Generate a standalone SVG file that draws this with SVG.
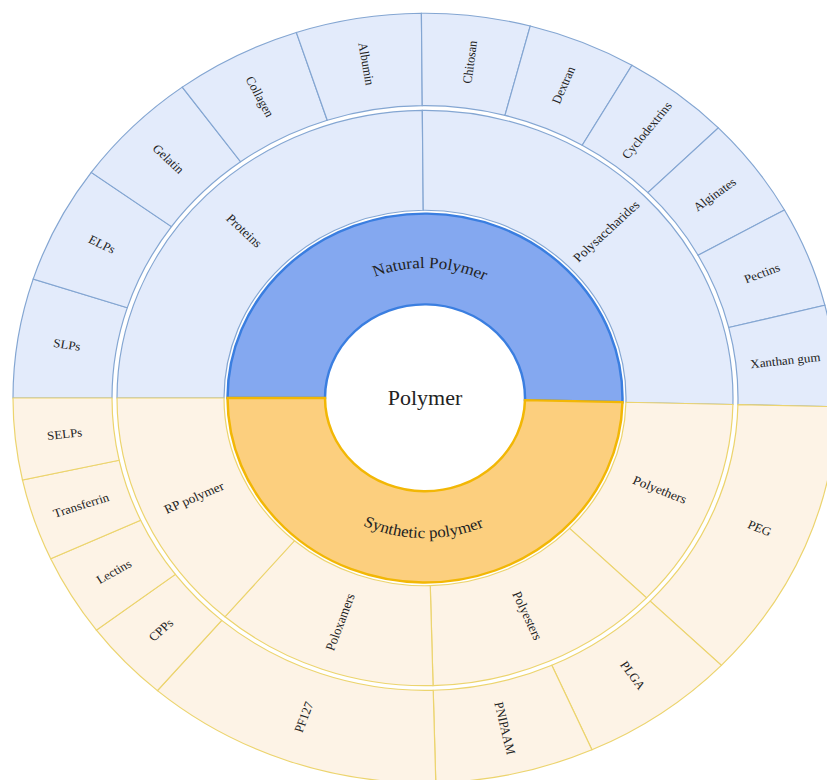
<svg xmlns="http://www.w3.org/2000/svg" width="827" height="780" viewBox="0 0 827 780">
<style>
.nat1{fill:#84a8f0;stroke:#3a7ee0;stroke-width:2.5}
.syn1{fill:#fccf7e;stroke:#f2b705;stroke-width:2.5}
.nat{fill:#e3ebfb;stroke:#84a6d2;stroke-width:1.2}
.syn{fill:#fdf3e6;stroke:#ecd46e;stroke-width:1.2}
text{font-family:"Liberation Serif","Times New Roman",serif;fill:#222;text-anchor:middle}
.t3{font-size:13px;dominant-baseline:central}
.t2{font-size:13.5px;dominant-baseline:central}
.t1{font-size:17px}
.t0{font-size:22px}
</style>
<defs>
<path id="arcNat" d="M-139,0 A139,139 0 1 1 138.96,3.15"/>
<path id="arcSyn" d="M-150,0 A150,150 0 0 0 149.96,3.40"/>
</defs>
<rect width="827" height="780" fill="#ffffff"/>
<g transform="translate(425 398) scale(1 0.934)">
<g id="center"><circle r="100" fill="#ffffff"/><text class="t0" x="0" y="7.5">Polymer</text></g>
<g id="natural-polymer"><path class="nat1" d="M-100,0 L-197.5,0 A197.5,197.5 0 1 1 197.45,4.48 L99.97,2.27 A100,100 0 1 0 -100,0 Z"/><text class="t1"><textPath href="#arcNat" startOffset="50.8%">Natural Polymer</textPath></text></g>
<g id="synthetic-polymer"><path class="syn1" d="M99.97,2.27 L197.45,4.48 A197.5,197.5 0 0 1 -197.5,0 L-100,0 A100,100 0 0 0 99.97,2.27 Z"/><text class="t1"><textPath href="#arcSyn" startOffset="50%">Synthetic polymer</textPath></text></g>

<g id="proteins"><path class="nat" d="M-201,0 L-308,0 A308,308 0 0 1 -2.69,-307.99 L-1.75,-200.99 A201,201 0 0 0 -201,0 Z"/><text class="t2" transform="rotate(224.75) translate(254.5 0) rotate(180)">Proteins</text></g>
<g id="polysaccharides"><path class="nat" d="M-1.75,-200.99 L-2.69,-307.99 A308,308 0 0 1 307.92,6.99 L200.95,4.56 A201,201 0 0 0 -1.75,-200.99 Z"/><text class="t2" transform="rotate(315.4) translate(254.5 0)">Polysaccharides</text></g>
<g id="polyethers"><path class="syn" d="M200.95,4.56 L307.92,6.99 A308,308 0 0 1 221.56,213.96 L144.59,139.63 A201,201 0 0 0 200.95,4.56 Z"/><text class="t2" transform="rotate(22.65) translate(254.5 0)">Polyethers</text></g>
<g id="polyesters"><path class="syn" d="M144.59,139.63 L221.56,213.96 A308,308 0 0 1 8.06,307.90 L5.26,200.93 A201,201 0 0 0 144.59,139.63 Z"/><text class="t2" transform="rotate(66.25) translate(254.5 0)">Polyesters</text></g>
<g id="poloxamers"><path class="syn" d="M5.26,200.93 L8.06,307.90 A308,308 0 0 1 -200.03,234.21 L-130.54,152.84 A201,201 0 0 0 5.26,200.93 Z"/><text class="t2" transform="rotate(109.5) translate(254.5 0) rotate(180)">Poloxamers</text></g>
<g id="rp-polymer"><path class="syn" d="M-130.54,152.84 L-200.03,234.21 A308,308 0 0 1 -308,0 L-201,0 A201,201 0 0 0 -130.54,152.84 Z"/><text class="t2" transform="rotate(155.25) translate(254.5 0) rotate(180)">RP polymer</text></g>

<g id="slps"><path class="nat" d="M-313,0 L-412,0 A412,412 0 0 1 -391.84,-127.32 L-297.68,-96.72 A313,313 0 0 0 -313,0 Z"/><text class="t3" transform="rotate(189) translate(362.5 0) rotate(180)">SLPs</text></g>
<g id="elps"><path class="nat" d="M-297.68,-96.72 L-391.84,-127.32 A412,412 0 0 1 -333.74,-241.58 L-253.54,-183.53 A313,313 0 0 0 -297.68,-96.72 Z"/><text class="t3" transform="rotate(206.95) translate(362.5 0) rotate(180)">ELPs</text></g>
<g id="gelatin"><path class="nat" d="M-253.54,-183.53 L-333.74,-241.58 A412,412 0 0 1 -242.75,-332.89 L-184.42,-252.90 A313,313 0 0 0 -253.54,-183.53 Z"/><text class="t3" transform="rotate(224.9) translate(362.5 0) rotate(180)">Gelatin</text></g>
<g id="collagen"><path class="nat" d="M-184.42,-252.90 L-242.75,-332.89 A412,412 0 0 1 -128.68,-391.39 L-97.76,-297.34 A313,313 0 0 0 -184.42,-252.90 Z"/><text class="t3" transform="rotate(242.85) translate(362.5 0) rotate(180)">Collagen</text></g>
<g id="albumin"><path class="nat" d="M-97.76,-297.34 L-128.68,-391.39 A412,412 0 0 1 -3.60,-411.98 L-2.73,-312.99 A313,313 0 0 0 -97.76,-297.34 Z"/><text class="t3" transform="rotate(260.65) translate(362.5 0) rotate(180)">Albumin</text></g>
<g id="chitosan"><path class="nat" d="M-2.73,-312.99 L-3.60,-411.98 A412,412 0 0 1 105.25,-398.33 L79.96,-302.62 A313,313 0 0 0 -2.73,-312.99 Z"/><text class="t3" transform="rotate(277.15) translate(362.5 0)">Chitosan</text></g>
<g id="dextran"><path class="nat" d="M79.96,-302.62 L105.25,-398.33 A412,412 0 0 1 206.94,-356.26 L157.21,-270.66 A313,313 0 0 0 79.96,-302.62 Z"/><text class="t3" transform="rotate(292.475) translate(362.5 0)">Dextran</text></g>
<g id="cyclodextrins"><path class="nat" d="M157.21,-270.66 L206.94,-356.26 A412,412 0 0 1 293.36,-289.29 L222.87,-219.78 A313,313 0 0 0 157.21,-270.66 Z"/><text class="t3" transform="rotate(307.775) translate(362.5 0)">Cyclodextrins</text></g>
<g id="alginates"><path class="nat" d="M222.87,-219.78 L293.36,-289.29 A412,412 0 0 1 359.47,-201.31 L273.09,-152.94 A313,313 0 0 0 222.87,-219.78 Z"/><text class="t3" transform="rotate(323.075) translate(362.5 0)">Alginates</text></g>
<g id="pectins"><path class="nat" d="M273.09,-152.94 L359.47,-201.31 A412,412 0 0 1 399.85,-99.32 L303.77,-75.45 A313,313 0 0 0 273.09,-152.94 Z"/><text class="t3" transform="rotate(338.4) translate(362.5 0)">Pectins</text></g>
<g id="xanthan-gum"><path class="nat" d="M303.77,-75.45 L399.85,-99.32 A412,412 0 0 1 411.89,9.35 L312.92,7.10 A313,313 0 0 0 303.77,-75.45 Z"/><text class="t3" transform="rotate(353.675) translate(362.5 0)">Xanthan gum</text></g>

<g id="peg"><path class="syn" d="M312.92,7.10 L411.89,9.35 A412,412 0 0 1 296.37,286.20 L225.15,217.43 A313,313 0 0 0 312.92,7.10 Z"/><text class="t3" transform="rotate(22.65) translate(362.5 0)">PEG</text></g>
<g id="plga"><path class="syn" d="M225.15,217.43 L296.37,286.20 A412,412 0 0 1 166.92,376.68 L126.81,286.16 A313,313 0 0 0 225.15,217.43 Z"/><text class="t3" transform="rotate(55.05) translate(362.5 0)">PLGA</text></g>
<g id="pnipaam"><path class="syn" d="M126.81,286.16 L166.92,376.68 A412,412 0 0 1 10.79,411.86 L8.19,312.89 A313,313 0 0 0 126.81,286.16 Z"/><text class="t3" transform="rotate(77.3) translate(362.5 0)">PNIPAAM</text></g>
<g id="pf127"><path class="syn" d="M8.19,312.89 L10.79,411.86 A412,412 0 0 1 -267.57,313.29 L-203.28,238.01 A313,313 0 0 0 8.19,312.89 Z"/><text class="t3" transform="rotate(109.5) translate(362.5 0) rotate(180)">PF127</text></g>
<g id="cpps"><path class="syn" d="M-203.28,238.01 L-267.57,313.29 A412,412 0 0 1 -328.61,248.52 L-249.65,188.80 A313,313 0 0 0 -203.28,238.01 Z"/><text class="t3" transform="rotate(136.7) translate(362.5 0) rotate(180)">CPPs</text></g>
<g id="lectins"><path class="syn" d="M-249.65,188.80 L-328.61,248.52 A412,412 0 0 1 -374.31,172.16 L-284.37,130.79 A313,313 0 0 0 -249.65,188.80 Z"/><text class="t3" transform="rotate(149.1) translate(362.5 0) rotate(180)">Lectins</text></g>
<g id="transferrin"><path class="syn" d="M-284.37,130.79 L-374.31,172.16 A412,412 0 0 1 -402.55,87.77 L-305.82,66.68 A313,313 0 0 0 -284.37,130.79 Z"/><text class="t3" transform="rotate(161.5) translate(362.5 0) rotate(180)">Transferrin</text></g>
<g id="selps"><path class="syn" d="M-305.82,66.68 L-402.55,87.77 A412,412 0 0 1 -412,0 L-313,0 A313,313 0 0 0 -305.82,66.68 Z"/><text class="t3" transform="rotate(173.85) translate(362.5 0) rotate(180)">SELPs</text></g>
<g id="connectors"/>
</g>
</svg>
